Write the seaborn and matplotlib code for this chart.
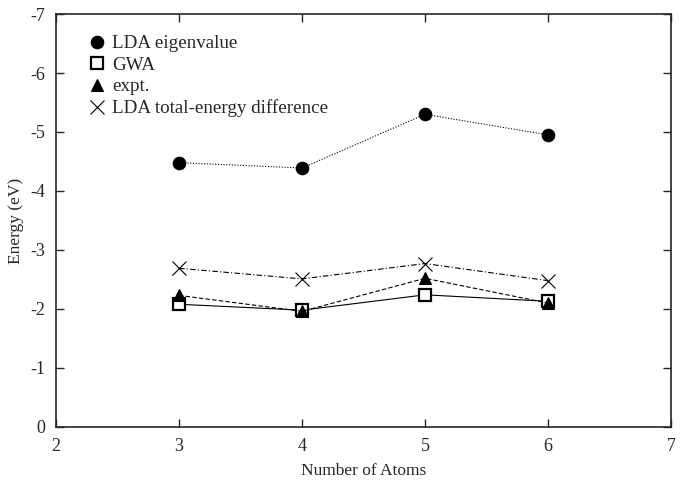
import matplotlib
matplotlib.use("Agg")

import pandas as pd
import matplotlib.pyplot as plt
import seaborn as sns
from matplotlib.lines import Line2D


# Chart data
atoms = [3, 4, 5, 6]

lda_eigenvalue = [-4.48, -4.39, -5.30, -4.95]
gwa = [-2.08, -1.98, -2.24, -2.13]
expt = [-2.23, -1.96, -2.52, -2.10]
lda_total_diff = [-2.69, -2.51, -2.77, -2.48]

x_ticks = [2, 3, 4, 5, 6, 7]
y_ticks = [0, -1, -2, -3, -4, -5, -6, -7]


sns.set_theme(style="ticks")

plt.rcParams["font.family"] = ["Liberation Serif", "DejaVu Serif"]
plt.rcParams["axes.unicode_minus"] = False


df = pd.DataFrame({
    "atoms": atoms * 4,
    "energy": lda_eigenvalue + gwa + expt + lda_total_diff,
    "series": (
        ["LDA eigenvalue"] * 4
        + ["GWA"] * 4
        + ["expt."] * 4
        + ["LDA total-energy difference"] * 4
    )
})


fig = plt.figure(figsize=(6.84, 4.83), dpi=100)
ax = fig.add_axes([0.082, 0.116, 0.899, 0.855])

# Line styles per series
styles = {
    "LDA eigenvalue": dict(
        marker="o", ls=(0, (1, 1.5)), mfc="black", ms=9
    ),
    "GWA": dict(
        marker="s", ls="-", mfc="white", ms=9
    ),
    "expt.": dict(
        marker="^", ls=(0, (4, 2)), mfc="black", ms=8
    ),
    "LDA total-energy difference": dict(
        marker="x", ls=(0, (5, 2, 1, 2)), mfc="black", ms=10
    ),
}

for name, st in styles.items():
    sub = df[df["series"] == name]
    sns.lineplot(
        data=sub,
        x="atoms",
        y="energy",
        ax=ax,
        color="black",
        linewidth=0.8,
        linestyle=st["ls"],
        marker=st["marker"],
        markersize=st["ms"],
        markerfacecolor=st["mfc"],
        markeredgecolor="black",
        markeredgewidth=1.6 if st["marker"] == "s" else 0.8,
        legend=False
    )

ax.set_xlim(2, 7)
ax.set_ylim(0, -7)
ax.set_xticks(x_ticks)
ax.set_yticks(y_ticks)

ax.tick_params(
    direction="in",
    top=True,
    right=True,
    length=6,
    width=1,
    labelsize=13,
    pad=8
)

for spine in ax.spines.values():
    spine.set_linewidth(1.2)
    spine.set_visible(True)

ax.set_xlabel("Number of Atoms", fontsize=12.5, labelpad=6)
ax.set_ylabel("Energy (eV)", fontsize=12.5, labelpad=4)

# Legend with markers only
handles = []
for name, st in styles.items():
    handles.append(
        Line2D(
            [], [],
            color="black",
            ls="none",
            marker=st["marker"],
            markersize=st["ms"],
            markerfacecolor=st["mfc"],
            markeredgecolor="black",
            markeredgewidth=1.6 if st["marker"] == "s" else 0.8
        )
    )

ax.legend(
    handles,
    list(styles.keys()),
    loc="upper left",
    bbox_to_anchor=(0.02, 1.0),
    frameon=False,
    fontsize=13.7,
    handlelength=0.8,
    handletextpad=0.4,
    labelspacing=0.22,
    borderaxespad=0.7
)

fig.savefig("out.png", dpi=100)
